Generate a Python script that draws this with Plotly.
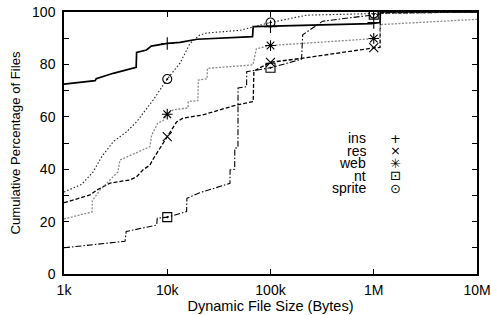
import plotly.graph_objects as go

# ---------------- data ----------------
series_names = ["ins", "res", "web", "nt", "sprite"]

ins_x = [1000, 2000, 2050, 3000, 5000, 5050, 6300, 7000, 10000, 13300, 19400, 67000, 68000, 950000, 1150000, 1160000, 1e7]
ins_y = [72.5, 73.8, 74.5, 76.6, 78.9, 84.6, 85.5, 87.0, 88.0, 88.4, 89.6, 90.6, 94.4, 95.6, 96.0, 100, 100]

res_x = [1000, 1790, 2070, 2790, 4350, 5050, 5800, 6800, 7200, 7900, 8500, 10000, 11400, 12300, 14200, 22000, 32000, 47000, 68000, 69000, 100000, 200000, 1000000, 1150000, 1160000, 1e7]
res_y = [27.2, 30.2, 32.0, 34.7, 35.9, 37.1, 39.7, 41.6, 43.5, 46.2, 48.0, 52.4, 56.0, 58.0, 59.5, 60.7, 62.6, 64.5, 65.8, 77.5, 80.8, 82.3, 86.3, 86.5, 99.6, 100]

web_x = [1000, 1870, 1880, 2230, 3330, 3480, 6800, 7060, 8100, 9100, 10000, 11400, 15900, 16000, 19800, 20000, 24300, 24500, 67600, 73000, 100000, 1000000, 1150000, 1160000, 1e7]
web_y = [21.0, 23.7, 28.0, 32.0, 39.0, 43.5, 48.6, 53.0, 57.6, 58.5, 61.0, 62.6, 63.4, 65.8, 66.2, 74.0, 74.5, 78.5, 79.8, 86.0, 87.2, 89.8, 90.0, 95.2, 97.2]

nt_x = [1000, 3900, 4000, 7900, 8000, 10000, 15400, 15500, 20600, 40500, 40600, 45000, 45100, 48400, 48500, 58700, 58800, 100000, 200000, 205000, 320000, 1000000, 1150000, 1160000, 1e7]
nt_y = [10.0, 12.5, 16.2, 18.7, 21.3, 21.7, 23.8, 28.9, 31.0, 34.6, 39.7, 40.0, 48.0, 48.2, 71.0, 71.5, 77.2, 78.7, 82.0, 91.3, 96.5, 98.8, 99.2, 100, 100]

sprite_x = [1000, 1480, 1920, 2320, 3000, 4050, 5050, 6310, 7300, 10000, 13300, 16600, 20600, 24300, 50500, 100000, 225000, 1000000, 1e7]
sprite_y = [31.3, 34.2, 39.0, 44.8, 50.5, 54.3, 58.1, 63.2, 66.4, 74.4, 80.5, 88.0, 91.2, 92.0, 93.0, 96.0, 98.8, 99.4, 100]

# point markers drawn at 10k, 100k, 1M
mark_x = [1e4, 1e5, 1e6]
ins_marks = [88.0, 94.4, 96.0]
res_marks = [52.4, 80.8, 86.4]
web_marks = [61.0, 87.2, 89.9]
nt_marks = [21.7, 78.7, 99.0]
sprite_marks = [74.4, 96.0, 99.4]

x_tickvals = [1e3, 1e4, 1e5, 1e6, 1e7]
x_ticktext = ["1k", "10k", "100k", "1M", "10M"]
y_tickvals = [0, 10, 20, 30, 40, 50, 60, 70, 80, 90, 100]
y_ticktext = ["0", "", "20", "", "40", "", "60", "", "80", "", "100"]

legend_glyphs = ["+", "×", "✳", "⊡", "⊙"]

# ---------------- styling ----------------
FONT = "Liberation Sans, Arial, Helvetica, sans-serif"
line_styles = {
    "ins": dict(color="#000000", width=1.7, dash="solid"),
    "res": dict(color="#000000", width=1.3, dash="4px,2px"),
    "web": dict(color="#8a8a8a", width=1.3, dash="2px,1.5px"),
    "nt": dict(color="#000000", width=1.1, dash="6px,2px,1.5px,2px"),
    "sprite": dict(color="#222222", width=1.1, dash="1.5px,2px"),
}
marker_symbols = {
    "ins": "cross-thin-open",
    "res": "x-thin-open",
    "web": "asterisk-open",
    "nt": "square-open-dot",
    "sprite": "circle-open-dot",
}

data = {
    "ins": (ins_x, ins_y, ins_marks),
    "res": (res_x, res_y, res_marks),
    "web": (web_x, web_y, web_marks),
    "nt": (nt_x, nt_y, nt_marks),
    "sprite": (sprite_x, sprite_y, sprite_marks),
}

fig = go.Figure()
for name in series_names:
    xs, ys, ms = data[name]
    fig.add_trace(go.Scatter(x=xs, y=ys, mode="lines", name=name,
                             line=line_styles[name], showlegend=False,
                             hoverinfo="skip"))
for name in series_names:
    xs, ys, ms = data[name]
    fig.add_trace(go.Scatter(x=mark_x, y=ms, mode="markers", name=name,
                             marker=dict(symbol=marker_symbols[name], size=9,
                                         color="#000000",
                                         line=dict(color="#000000", width=1.1)),
                             showlegend=False))

# key: label text right-aligned, glyph to its right (gnuplot style)
for i, name in enumerate(series_names):
    ypos = 0.5175 - i * 0.0477
    fig.add_annotation(xref="paper", yref="paper", x=0.733, y=ypos,
                       text=name, showarrow=False, xanchor="right",
                       yanchor="middle", borderpad=0,
                       font=dict(family=FONT, size=14, color="#000"))
    fig.add_annotation(xref="paper", yref="paper", x=0.803, y=ypos,
                       text=legend_glyphs[i], showarrow=False, xanchor="center",
                       yanchor="middle", borderpad=0,
                       font=dict(family="DejaVu Sans", size=13, color="#000"))

axis_common = dict(showline=True, linecolor="#000", linewidth=1.5, mirror="ticks",
                   ticks="inside", ticklen=5, tickwidth=1, tickcolor="#000",
                   showgrid=False, zeroline=False, automargin=False)

fig.update_layout(
    width=491, height=315,
    margin=dict(l=64, r=14, t=12, b=41),
    paper_bgcolor="white", plot_bgcolor="white",
    font=dict(family=FONT, size=14, color="#000"),
    showlegend=False,
    xaxis=dict(type="log", range=[3, 7], tickvals=x_tickvals, ticktext=x_ticktext,
               tickfont=dict(size=14), ticklabelstandoff=2,
               title=dict(text="Dynamic File Size (Bytes)", font=dict(size=14.5), standoff=1),
               **axis_common),
    yaxis=dict(range=[0, 100], tickvals=y_tickvals, ticktext=y_ticktext,
               tickfont=dict(size=14), ticklabelstandoff=4,
               title=dict(text="Cumulative Percentage of Files", font=dict(size=13.2), standoff=8),
               **axis_common),
)

fig.write_html("out.html", config={"displayModeBar": False},
               post_script="document.body.style.margin='0';document.body.style.overflow='hidden';")
